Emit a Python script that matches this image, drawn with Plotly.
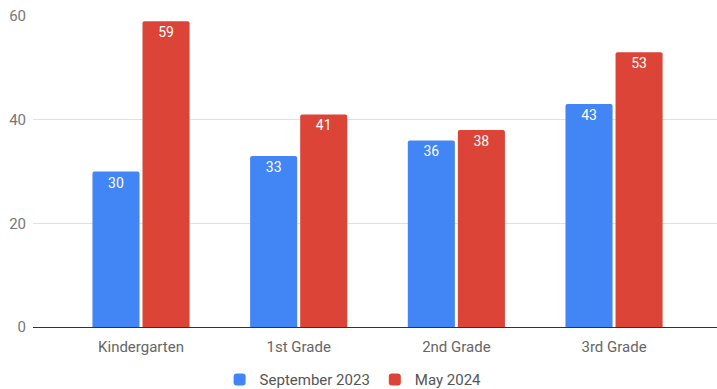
import plotly.graph_objects as go

categories = ["Kindergarten", "1st Grade", "2nd Grade", "3rd Grade"]
sept_2023 = [30, 33, 36, 43]
may_2024 = [59, 41, 38, 53]
series_names = ["September 2023", "May 2024"]
y_ticks = [0, 20, 40, 60]

fig = go.Figure()
for name, vals, color in [(series_names[0], sept_2023, "#4285F4"),
                          (series_names[1], may_2024, "#DB4437")]:
    fig.add_trace(go.Bar(
        x=categories, y=vals, name=name,
        marker=dict(color=color, line=dict(width=0)),
        text=[str(v) for v in vals],
        textposition="inside", insidetextanchor="end",
        textfont=dict(color="white", size=14, family="Roboto"),
        cliponaxis=False,
    ))

fig.update_layout(
    width=717, height=389,
    margin=dict(l=33, r=0, t=16, b=62, autoexpand=False),
    paper_bgcolor="white", plot_bgcolor="white",
    barmode="group", bargap=0.365, bargroupgap=0.06,
    barcornerradius=2,
    font=dict(family="Roboto", size=15, color="#666666"),
    showlegend=True,
    legend=dict(orientation="h", x=0.468, xanchor="center", y=-0.17, yanchor="middle",
                font=dict(size=15, color="#555555"), itemwidth=30,
                traceorder="normal"),
    xaxis=dict(range=[-0.685, 3.653], showgrid=False, ticks="", showline=False,
               tickfont=dict(size=15, color="#666666"), fixedrange=True,
               ticklabelstandoff=9, automargin=False),
    yaxis=dict(range=[0, 60], tickvals=y_ticks, showgrid=True, gridcolor="#e0e0e0",
               gridwidth=1, zeroline=True, zerolinecolor="#333333", zerolinewidth=1,
               tickfont=dict(size=15, color="#777777"), ticks="", ticklabelstandoff=6,
               automargin=False),
)

fig.write_html("out.html")
